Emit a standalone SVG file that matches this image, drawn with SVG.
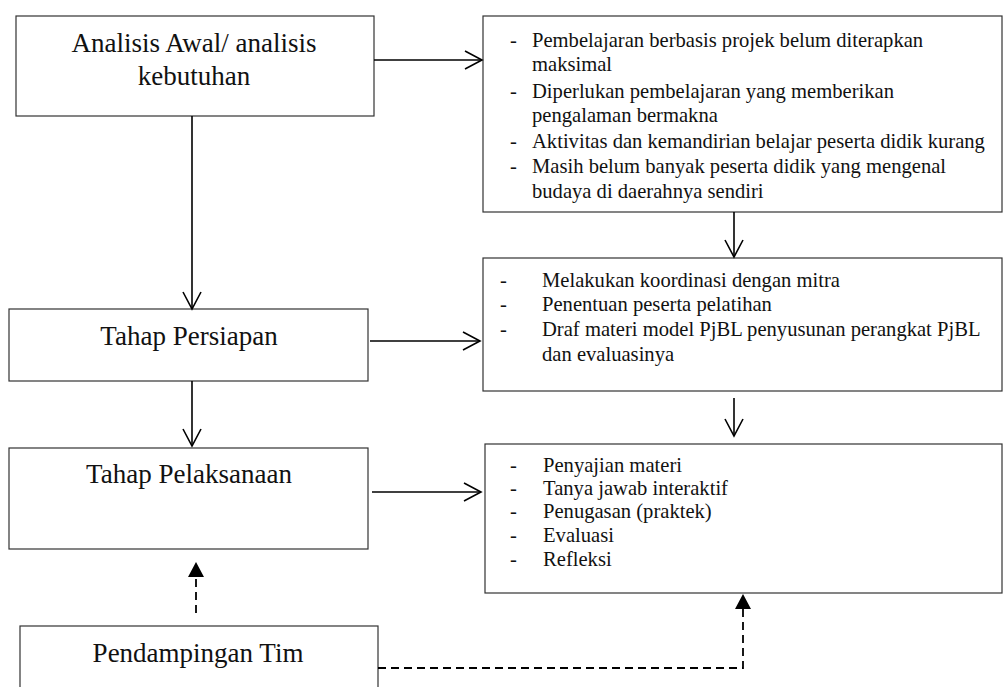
<svg xmlns="http://www.w3.org/2000/svg" width="1004" height="687" viewBox="0 0 1004 687">
<defs>
<style>
.box{fill:#fff;stroke:#333;stroke-width:1.2}
.t{font-family:"Liberation Serif","Times New Roman",serif;fill:#111}
.big{font-size:27px}
.sm{font-size:20.6px}
.c{stroke:#000;stroke-width:1.6;fill:none}
.d{stroke:#000;stroke-width:1.8;fill:none;stroke-dasharray:8 5}
</style>
<marker id="open" viewBox="0 0 20 20" refX="18" refY="10" markerWidth="20" markerHeight="20" markerUnits="userSpaceOnUse" orient="auto">
<path d="M1,1 L18,10 L1,19" fill="none" stroke="#000" stroke-width="1.6"/>
</marker>
<marker id="fill" viewBox="0 0 16 16" refX="15" refY="8" markerWidth="16" markerHeight="16" markerUnits="userSpaceOnUse" orient="auto">
<path d="M0,0 L15,8 L0,16 Z" fill="#000"/>
</marker>
</defs>
<rect width="1004" height="687" fill="#fff"/>
<g id="n-analisis">
<rect class="box" x="16" y="16" width="358" height="100"/>
<text class="t big" x="194" y="52" text-anchor="middle">Analisis Awal/ analisis</text>
<text class="t big" x="194" y="85" text-anchor="middle">kebutuhan</text>
</g>
<g id="n-masalah">
<rect class="box" x="483" y="16" width="519" height="196"/>
<g class="t sm">
<text x="510" y="47">-</text><text x="532" y="47">Pembelajaran berbasis projek belum diterapkan</text>
<text x="532" y="71">maksimal</text>
<text x="510" y="98">-</text><text x="532" y="98">Diperlukan pembelajaran yang memberikan</text>
<text x="532" y="122">pengalaman bermakna</text>
<text x="510" y="148">-</text><text x="532" y="148">Aktivitas dan kemandirian belajar peserta didik kurang</text>
<text x="510" y="173">-</text><text x="532" y="173">Masih belum banyak peserta didik yang mengenal</text>
<text x="532" y="198">budaya di daerahnya sendiri</text>
</g>
</g>
<g id="n-persiapan">
<rect class="box" x="9" y="309" width="359" height="72"/>
<text class="t big" x="189" y="345" text-anchor="middle">Tahap Persiapan</text>
</g>
<g id="n-persiapan-isi">
<rect class="box" x="483" y="258" width="519" height="133"/>
<g class="t sm">
<text x="500" y="287">-</text><text x="542" y="287">Melakukan koordinasi dengan mitra</text>
<text x="500" y="311">-</text><text x="542" y="311">Penentuan peserta pelatihan</text>
<text x="500" y="336">-</text><text x="542" y="336">Draf materi model PjBL penyusunan perangkat PjBL</text>
<text x="542" y="361">dan evaluasinya</text>
</g>
</g>
<g id="n-pelaksanaan">
<rect class="box" x="9" y="448" width="359" height="101"/>
<text class="t big" x="189" y="483" text-anchor="middle">Tahap Pelaksanaan</text>
</g>
<g id="n-pelaksanaan-isi">
<rect class="box" x="485" y="444" width="517" height="149"/>
<g class="t sm">
<text x="510" y="472">-</text><text x="543" y="472">Penyajian materi</text>
<text x="510" y="495">-</text><text x="543" y="495">Tanya jawab interaktif</text>
<text x="510" y="518">-</text><text x="543" y="518">Penugasan (praktek)</text>
<text x="510" y="542">-</text><text x="543" y="542">Evaluasi</text>
<text x="510" y="566">-</text><text x="543" y="566">Refleksi</text>
</g>
</g>
<g id="n-pendampingan">
<rect class="box" x="20" y="626" width="358" height="80"/>
<text class="t big" x="198" y="662" text-anchor="middle">Pendampingan Tim</text>
</g>
<g id="connectors">
<line class="c" x1="374" y1="60" x2="482" y2="60" marker-end="url(#open)"/>
<line class="c" x1="192" y1="116" x2="192" y2="309" marker-end="url(#open)"/>
<line class="c" x1="734" y1="212" x2="734" y2="257" marker-end="url(#open)"/>
<line class="c" x1="370" y1="341" x2="480" y2="341" marker-end="url(#open)"/>
<line class="c" x1="734" y1="398" x2="734" y2="436" marker-end="url(#open)"/>
<line class="c" x1="192" y1="381" x2="192" y2="446" marker-end="url(#open)"/>
<line class="c" x1="372" y1="492" x2="481" y2="492" marker-end="url(#open)"/>
<line class="d" x1="196" y1="613" x2="196" y2="562" marker-end="url(#fill)"/>
<polyline class="d" points="378,668 743,668 743,594" marker-end="url(#fill)"/>
</g>
</svg>
